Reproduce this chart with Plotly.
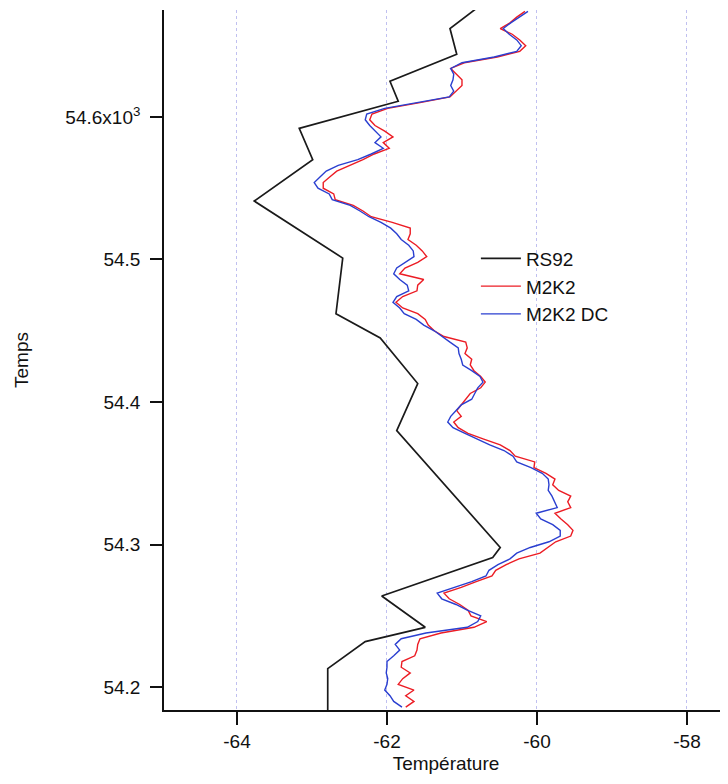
import plotly.graph_objects as go

# RS92 radiosonde (time in s, temperature in degC)
rs92_time = [54676, 54662, 54644, 54625, 54611, 54592, 54570, 54541, 54501, 54462,
             54445, 54413, 54380, 54298, 54291, 54264, 54242, 54232, 54213, 54180]
rs92_temp = [-60.81, -61.16, -61.07, -61.96, -61.85, -63.17, -62.99, -63.77, -62.59, -62.68,
             -62.09, -61.59, -61.87, -60.49, -60.59, -62.07, -61.49, -62.29, -62.79, -62.79]

# M2K2 time samples (s)
m2k2_time = [54674, 54670, 54666, 54662, 54658, 54654, 54650, 54646, 54642, 54638,
             54634, 54630, 54626, 54622, 54618, 54614, 54610, 54606, 54602, 54598,
             54594, 54590, 54586, 54582, 54578, 54574, 54570, 54566, 54562, 54558,
             54554, 54550, 54546, 54542, 54538, 54534, 54530, 54526, 54522, 54518,
             54514, 54510, 54506, 54502, 54498, 54494, 54490, 54486, 54482, 54478,
             54474, 54470, 54466, 54462, 54458, 54454, 54450, 54446, 54442, 54438,
             54434, 54430, 54426, 54422, 54418, 54414, 54410, 54406, 54402, 54398,
             54394, 54390, 54386, 54382, 54378, 54374, 54370, 54366, 54362, 54358,
             54354, 54350, 54346, 54342, 54338, 54334, 54330, 54326, 54322, 54318,
             54314, 54310, 54306, 54302, 54298, 54294, 54290, 54286, 54282, 54278,
             54274, 54270, 54266, 54262, 54258, 54254, 54250, 54246, 54242, 54238,
             54234, 54230, 54226, 54222, 54218, 54214, 54210, 54206, 54202, 54198,
             54194, 54190, 54186]

m2k2_temp = [-60.16, -60.27, -60.36, -60.49, -60.33, -60.23, -60.15, -60.23, -60.53, -60.97,
             -61.15, -61.08, -61.00, -61.00, -61.08, -61.16, -61.56, -61.99, -62.20, -62.23,
             -62.16, -62.03, -61.92, -62.05, -61.97, -62.17, -62.32, -62.49, -62.67, -62.76,
             -62.85, -62.85, -62.71, -62.69, -62.45, -62.32, -62.21, -61.93, -61.69, -61.69,
             -61.72, -61.61, -61.53, -61.47, -61.59, -61.76, -61.83, -61.51, -61.59, -61.60,
             -61.79, -61.88, -61.79, -61.59, -61.49, -61.45, -61.37, -61.24, -60.95, -60.93,
             -60.96, -60.87, -60.89, -60.84, -60.75, -60.69, -60.75, -60.89, -60.95, -61.00,
             -61.07, -61.01, -61.11, -61.05, -60.92, -60.71, -60.49, -60.36, -60.29, -60.03,
             -60.04, -59.88, -59.76, -59.79, -59.71, -59.55, -59.59, -59.55, -59.76, -59.68,
             -59.59, -59.52, -59.55, -59.75, -59.85, -59.96, -60.24, -60.41, -60.55, -60.60,
             -60.81, -61.01, -61.24, -61.17, -61.03, -60.92, -60.88, -60.67, -60.84, -61.28,
             -61.56, -61.59, -61.60, -61.63, -61.80, -61.81, -61.69, -61.79, -61.85, -61.64,
             -61.75, -61.64, -61.75]

m2k2_dc_temp = [-60.12, -60.24, -60.35, -60.45, -60.37, -60.27, -60.21, -60.27, -60.57, -61.00,
                -61.15, -61.11, -61.12, -61.15, -61.11, -61.17, -61.59, -62.03, -62.27, -62.29,
                -62.23, -62.15, -62.08, -62.16, -62.05, -62.21, -62.39, -62.65, -62.81, -62.89,
                -62.97, -62.92, -62.77, -62.73, -62.49, -62.36, -62.24, -62.08, -61.95, -61.87,
                -61.81, -61.71, -61.65, -61.64, -61.75, -61.87, -61.91, -61.83, -61.73, -61.71,
                -61.87, -61.92, -61.83, -61.77, -61.61, -61.51, -61.37, -61.27, -61.16, -61.05,
                -61.04, -61.01, -60.99, -60.87, -60.76, -60.72, -60.79, -60.83, -60.87, -61.01,
                -61.08, -61.15, -61.19, -61.12, -60.96, -60.80, -60.63, -60.44, -60.32, -60.27,
                -60.08, -59.93, -59.85, -59.84, -59.85, -59.80, -59.76, -59.73, -60.01, -59.95,
                -59.79, -59.69, -59.69, -59.84, -60.09, -60.27, -60.36, -60.52, -60.64, -60.68,
                -60.87, -61.09, -61.33, -61.27, -61.08, -60.93, -60.75, -60.79, -60.93, -61.48,
                -61.81, -61.89, -61.83, -61.91, -62.00, -62.00, -62.01, -61.99, -62.00, -62.03,
                -61.96, -61.91, -61.80]

x_tickvals = [-64, -62, -60, -58]
y_tickvals = [54200, 54300, 54400, 54500, 54600]
y_ticktext = ["54.2", "54.3", "54.4", "54.5", "54.6x10<sup>3</sup>"]

FONT = "Liberation Sans, Arial, sans-serif"

fig = go.Figure()
fig.add_trace(go.Scatter(x=rs92_temp, y=rs92_time, mode="lines", name="RS92",
                         line=dict(color="#1a1a1a", width=1.7)))
fig.add_trace(go.Scatter(x=m2k2_temp, y=m2k2_time, mode="lines", name="M2K2",
                         line=dict(color="#ec1c24", width=1.4)))
fig.add_trace(go.Scatter(x=m2k2_dc_temp, y=m2k2_time, mode="lines", name="M2K2 DC",
                         line=dict(color="#2a3fd0", width=1.4)))

fig.update_layout(
    width=728, height=784,
    margin=dict(l=156, r=8, t=2, b=82),
    paper_bgcolor="white", plot_bgcolor="white",
    font=dict(family=FONT, size=19, color="#111111"),
    showlegend=True,
    legend=dict(x=0.553, y=0.672, xanchor="left", yanchor="top",
                bgcolor="rgba(0,0,0,0)", font=dict(size=19), tracegroupgap=0,
                itemwidth=40),
    xaxis=dict(range=[-64.973, -57.453], tickvals=x_tickvals,
               ticktext=[str(v) for v in x_tickvals],
               showgrid=True, gridcolor="rgba(150,150,230,0.6)", griddash="dot", gridwidth=1,
               zeroline=False, showline=True, linecolor="#111111", linewidth=1.6,
               ticks="outside", ticklen=13, tickwidth=1.6, tickcolor="#111111",
               tickfont=dict(size=19),
               title=dict(text="Température", font=dict(size=19), standoff=6)),
    yaxis=dict(range=[54184, 54675], tickvals=y_tickvals, ticktext=y_ticktext,
               showgrid=False, zeroline=False, showline=True, linecolor="#111111",
               linewidth=1.6, ticks="outside", ticklen=12, tickwidth=1.6,
               tickcolor="#111111", tickfont=dict(size=19), ticklabelstandoff=6,
               title=dict(text="Temps", font=dict(size=19), standoff=32)),
)

fig.write_html("out.html")
